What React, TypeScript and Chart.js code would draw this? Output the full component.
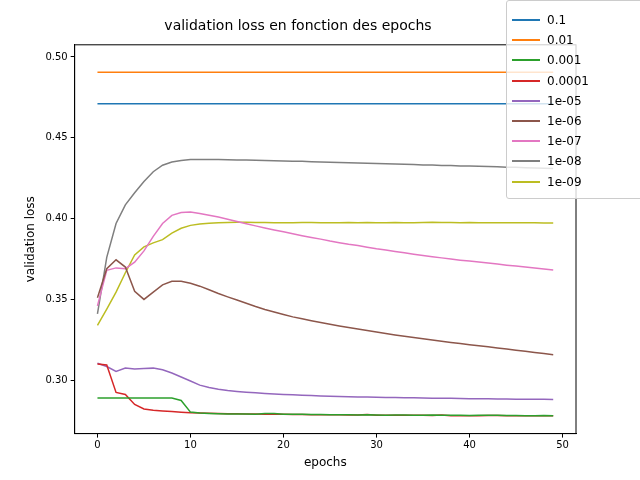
import { useEffect, useRef } from 'react';
import { Chart, registerables } from 'chart.js';

Chart.register(...registerables);

const epochs = Array.from({ length: 50 }, (_, i) => i);
const labels = ['0.1', '0.01', '0.001', '0.0001', '1e-05', '1e-06', '1e-07', '1e-08', '1e-09'];
const colors = ['#1f77b4', '#ff7f0e', '#2ca02c', '#d62728', '#9467bd', '#8c564b', '#e377c2', '#7f7f7f', '#bcbd22'];

const lr01 = [0.471, 0.471, 0.471, 0.471, 0.471, 0.471, 0.471, 0.471, 0.471, 0.471, 0.471, 0.471, 0.471, 0.471, 0.471, 0.471, 0.471, 0.471, 0.471, 0.471, 0.471, 0.471, 0.471, 0.471, 0.471, 0.471, 0.471, 0.471, 0.471, 0.471, 0.471, 0.471, 0.471, 0.471, 0.471, 0.471, 0.471, 0.471, 0.471, 0.471, 0.471, 0.471, 0.471, 0.471, 0.471, 0.471, 0.471, 0.471, 0.471, 0.471];
const lr001 = [0.4905, 0.4905, 0.4905, 0.4905, 0.4905, 0.4905, 0.4905, 0.4905, 0.4905, 0.4905, 0.4905, 0.4905, 0.4905, 0.4905, 0.4905, 0.4905, 0.4905, 0.4905, 0.4905, 0.4905, 0.4905, 0.4905, 0.4905, 0.4905, 0.4905, 0.4905, 0.4905, 0.4905, 0.4905, 0.4905, 0.4905, 0.4905, 0.4905, 0.4905, 0.4905, 0.4905, 0.4905, 0.4905, 0.4905, 0.4905, 0.4905, 0.4905, 0.4905, 0.4905, 0.4905, 0.4905, 0.4905, 0.4905, 0.4905, 0.4905];
const lr0001 = [0.289, 0.289, 0.289, 0.289, 0.289, 0.289, 0.289, 0.289, 0.289, 0.2875, 0.2803, 0.2797, 0.2795, 0.2793, 0.2792, 0.2792, 0.2791, 0.2790, 0.2794, 0.2794, 0.2789, 0.2789, 0.2789, 0.2788, 0.2788, 0.2787, 0.2787, 0.2786, 0.2785, 0.2787, 0.2785, 0.2784, 0.2785, 0.2785, 0.2784, 0.2783, 0.2785, 0.2784, 0.2783, 0.2783, 0.2782, 0.2783, 0.2784, 0.2783, 0.2782, 0.2782, 0.2781, 0.2781, 0.2782, 0.2781];
const lr00001 = [0.310, 0.3095, 0.2925, 0.2912, 0.2850, 0.2822, 0.2815, 0.2810, 0.2806, 0.2802, 0.2799, 0.2797, 0.2796, 0.2794, 0.2793, 0.2793, 0.2792, 0.2791, 0.2790, 0.2789, 0.2789, 0.2788, 0.2788, 0.2787, 0.2787, 0.2786, 0.2786, 0.2785, 0.2785, 0.2788, 0.2784, 0.2784, 0.2784, 0.2783, 0.2783, 0.2783, 0.2782, 0.2785, 0.2781, 0.2781, 0.2781, 0.2781, 0.2782, 0.2782, 0.2781, 0.2781, 0.2780, 0.2780, 0.2780, 0.2780];
const lr1e5 = [0.3105, 0.3085, 0.3055, 0.3075, 0.3070, 0.3072, 0.3075, 0.3065, 0.3045, 0.3020, 0.2995, 0.2970, 0.2955, 0.2945, 0.2937, 0.2931, 0.2926, 0.2922, 0.2918, 0.2915, 0.2912, 0.2910, 0.2907, 0.2905, 0.2903, 0.2901, 0.2900, 0.2898, 0.2897, 0.2896, 0.2895, 0.2894, 0.2893, 0.2892, 0.2891, 0.2890, 0.2889, 0.2889, 0.2888, 0.2887, 0.2886, 0.2886, 0.2885, 0.2884, 0.2884, 0.2883, 0.2883, 0.2882, 0.2882, 0.2881];
const lr1e6 = [0.351, 0.369, 0.3745, 0.370, 0.355, 0.350, 0.3545, 0.359, 0.3612, 0.3612, 0.3600, 0.3582, 0.3560, 0.3537, 0.3516, 0.3496, 0.3476, 0.3456, 0.3438, 0.3422, 0.3407, 0.3392, 0.3380, 0.3368, 0.3357, 0.3346, 0.3336, 0.3326, 0.3317, 0.3308, 0.3298, 0.3289, 0.3280, 0.3272, 0.3264, 0.3256, 0.3249, 0.3241, 0.3234, 0.3227, 0.3220, 0.3213, 0.3207, 0.3200, 0.3193, 0.3186, 0.3179, 0.3172, 0.3165, 0.3158];
const lr1e7 = [0.346, 0.368, 0.3695, 0.3690, 0.373, 0.3800, 0.3890, 0.3970, 0.4020, 0.4037, 0.4040, 0.4032, 0.4021, 0.4010, 0.3996, 0.3982, 0.3968, 0.3955, 0.3942, 0.3930, 0.3918, 0.3906, 0.3894, 0.3883, 0.3873, 0.3861, 0.3851, 0.3841, 0.3833, 0.3823, 0.3813, 0.3805, 0.3796, 0.3788, 0.3780, 0.3772, 0.3764, 0.3757, 0.3750, 0.3743, 0.3737, 0.3731, 0.3725, 0.3719, 0.3712, 0.3706, 0.3700, 0.3694, 0.3688, 0.3682];
const lr1e8 = [0.341, 0.376, 0.3970, 0.4085, 0.4160, 0.4230, 0.4290, 0.4330, 0.4350, 0.4360, 0.4365, 0.4366, 0.4366, 0.4365, 0.4364, 0.4363, 0.4362, 0.4361, 0.4359, 0.4358, 0.4356, 0.4355, 0.4354, 0.4352, 0.4350, 0.4348, 0.4347, 0.4346, 0.4344, 0.4342, 0.4340, 0.4339, 0.4337, 0.4336, 0.4334, 0.4332, 0.4331, 0.4329, 0.4328, 0.4326, 0.4325, 0.4323, 0.4322, 0.4320, 0.4318, 0.4317, 0.4315, 0.4313, 0.4311, 0.4310];
const lr1e9 = [0.334, 0.344, 0.3545, 0.3665, 0.3775, 0.3825, 0.3850, 0.3870, 0.3910, 0.3940, 0.3958, 0.3966, 0.3971, 0.3974, 0.3976, 0.3977, 0.3977, 0.3976, 0.3976, 0.3975, 0.3975, 0.3975, 0.3976, 0.3976, 0.3975, 0.3974, 0.3975, 0.3976, 0.3975, 0.3976, 0.3975, 0.3975, 0.3976, 0.3975, 0.3975, 0.3976, 0.3977, 0.3976, 0.3976, 0.3975, 0.3976, 0.3975, 0.3974, 0.3975, 0.3975, 0.3975, 0.3974, 0.3974, 0.3973, 0.3973];
const series = [lr01, lr001, lr0001, lr00001, lr1e5, lr1e6, lr1e7, lr1e8, lr1e9];

const font = "'DejaVu Sans', sans-serif";

// matplotlib-style frame round the plot area
const frame = {
  id: 'frame',
  afterDraw(chart: Chart) {
    const { ctx, chartArea: a } = chart;
    ctx.save();
    ctx.strokeStyle = '#000';
    ctx.lineWidth = 1;
    ctx.strokeRect(a.left, a.top, a.right - a.left, a.bottom - a.top);
    ctx.restore();
  },
};

export default function App() {
  const canvasRef = useRef<HTMLCanvasElement>(null);

  useEffect(() => {
    document.body.style.margin = '0';
    if (!canvasRef.current) return;
    const tickGrid = { display: true, drawOnChartArea: false, drawTicks: true, tickLength: 4, color: '#000' };
    const chart = new Chart(canvasRef.current, {
      type: 'line',
      data: {
        datasets: series.map((s, i) => ({
          label: labels[i],
          data: s.map((v, j) => ({ x: epochs[j], y: v })),
          borderColor: colors[i],
          backgroundColor: colors[i],
          borderWidth: 1.5,
          pointRadius: 0,
          tension: 0,
        })),
      },
      options: {
        animation: false,
        responsive: false,
        layout: { padding: { top: 18, right: 64, bottom: 6, left: 20 } },
        plugins: {
          legend: { display: false },
          tooltip: { enabled: false },
          title: { display: true, text: 'validation loss en fonction des epochs', color: '#000', font: { family: font, size: 14, weight: 'normal' }, padding: { top: 0, bottom: 10 } },
        },
        scales: {
          x: {
            type: 'linear', min: -2.45, max: 51.45,
            afterBuildTicks: (a) => { a.ticks = [0, 10, 20, 30, 40, 50].map((v) => ({ value: v })); },
            grid: tickGrid,
            border: { color: '#000' },
            ticks: { color: '#000', font: { family: font, size: 10 }, padding: 2 },
            title: { display: true, text: 'epochs', color: '#000', font: { family: font, size: 12 }, padding: { top: 2 } },
          },
          y: {
            type: 'linear', min: 0.267, max: 0.5075,
            afterBuildTicks: (a) => { a.ticks = [0.30, 0.35, 0.40, 0.45, 0.50].map((v) => ({ value: v })); },
            grid: tickGrid,
            border: { color: '#000' },
            ticks: { color: '#000', font: { family: font, size: 10 }, padding: 3, callback: (v) => Number(v).toFixed(2) },
            title: { display: true, text: 'validation loss', color: '#000', font: { family: font, size: 12 } },
          },
        },
      },
      plugins: [frame],
    });
    return () => chart.destroy();
  }, []);

  return (
    <div style={{ position: 'relative', width: 640, height: 480, background: '#fff' }}>
      <canvas ref={canvasRef} width={640} height={480}></canvas>
      <div style={{ position: 'absolute', left: 506, top: 0, width: 140, height: 199, boxSizing: 'border-box', border: '1px solid #ccc', borderRadius: 3, background: 'rgba(255,255,255,0.8)', fontFamily: font, fontSize: 12, paddingTop: 9 }}>
        {labels.map((l, i) => (
          <div key={l} style={{ display: 'flex', alignItems: 'center', height: 20.2 }}>
            <span style={{ display: 'inline-block', width: 28, height: 2, background: colors[i], marginLeft: 5, marginRight: 7 }}></span>
            <span>{l}</span>
          </div>
        ))}
      </div>
    </div>
  );
}
